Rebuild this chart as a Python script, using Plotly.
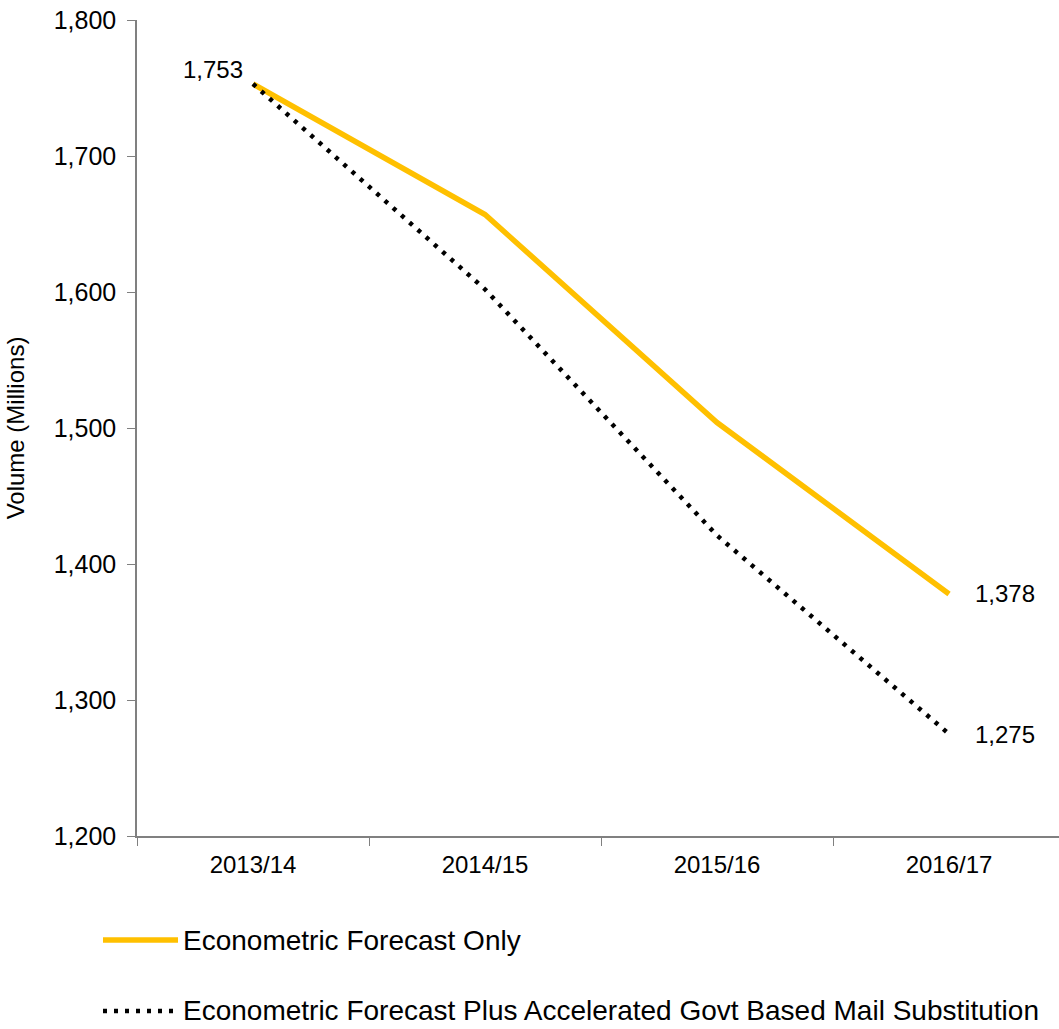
import plotly.graph_objects as go

# Forecast years and mail volumes (millions)
years = ["2013/14", "2014/15", "2015/16", "2016/17"]
econ_only = [1753, 1657, 1504, 1378]
econ_plus_subst = [1753, 1602, 1421, 1275]

name_only = "Econometric Forecast Only"
name_plus = "Econometric Forecast Plus Accelerated Govt Based Mail Substitution"

FONT = "Liberation Sans, Arial, sans-serif"
W, H = 1059, 1029
ML, MR, MT, MB = 137, 0, 20, 193
PW, PH = W - ML - MR, H - MT - MB

ORANGE = "#FFC000"
DOT = "4px,7px"


def px_x(px):
    return (px - ML) / PW


def px_y(py):
    return (H - MB - py) / PH


fig = go.Figure()
fig.add_trace(go.Scatter(
    x=years, y=econ_only, mode="lines", name=name_only,
    line=dict(color=ORANGE, width=5.5), showlegend=False,
))
fig.add_trace(go.Scatter(
    x=years, y=econ_plus_subst, mode="lines", name=name_plus,
    line=dict(color="#000000", width=4.5, dash=DOT), showlegend=False,
))

# value labels at the first and last year
lab_font = dict(size=24, color="#000", family=FONT)
fig.add_annotation(x=years[0], y=econ_only[0], text=f"{econ_only[0]:,}",
                   showarrow=False, xanchor="right", yanchor="middle",
                   xshift=-8, yshift=14, font=lab_font)
fig.add_annotation(x=years[-1], y=econ_only[-1], text=f"{econ_only[-1]:,}",
                   showarrow=False, xanchor="left", yanchor="middle",
                   xshift=24, font=lab_font)
fig.add_annotation(x=years[-1], y=econ_plus_subst[-1], text=f"{econ_plus_subst[-1]:,}",
                   showarrow=False, xanchor="left", yanchor="middle",
                   xshift=24, font=lab_font)

# legend drawn below the plot: line sample followed by the series name
leg_font = dict(size=28, color="#000", family=FONT)
legend_rows = [
    (name_only, dict(color=ORANGE, width=5.5), 940),
    (name_plus, dict(color="#000000", width=4.5, dash=DOT), 1011),
]
for label, line_style, row_y in legend_rows:
    fig.add_shape(type="line", xref="paper", yref="paper",
                  x0=px_x(103), x1=px_x(178), y0=px_y(row_y), y1=px_y(row_y),
                  line=line_style)
    fig.add_annotation(xref="paper", yref="paper", x=px_x(181), y=px_y(row_y),
                       text=label, showarrow=False, xanchor="left", yanchor="middle",
                       font=leg_font)

fig.update_layout(
    width=W, height=H,
    margin=dict(l=ML, r=MR, t=MT, b=MB),
    paper_bgcolor="white", plot_bgcolor="white",
    font=dict(family=FONT, size=24, color="#000"),
    showlegend=False,
    xaxis=dict(
        type="category", range=[-0.5, 3.474],
        showline=True, linecolor="#808080", linewidth=1.5,
        ticks="outside", tickson="boundaries", ticklen=8, tickcolor="#808080",
        showgrid=False, zeroline=False,
        tickfont=dict(size=24, family=FONT), ticklabelstandoff=6,
    ),
    yaxis=dict(
        range=[1200, 1800], tickvals=[1200, 1300, 1400, 1500, 1600, 1700, 1800],
        tickformat=",d",
        showline=True, linecolor="#808080", linewidth=1.5,
        ticks="outside", ticklen=8, tickcolor="#808080",
        showgrid=False, zeroline=False,
        tickfont=dict(size=25, family=FONT), ticklabelstandoff=6,
        title=dict(text="Volume (Millions)", font=dict(size=24, family=FONT), standoff=22),
    ),
)

fig.write_html("out.html")
